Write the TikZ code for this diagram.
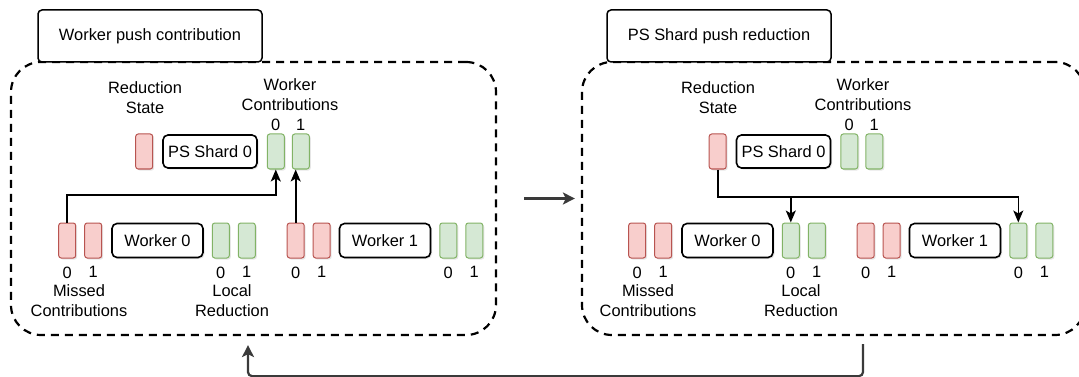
\documentclass[tikz,border=0pt]{standalone}
\usepackage{fontspec}
\setmainfont{Liberation Sans}
\usepackage{tikz}
\usetikzlibrary{arrows.meta,positioning,calc,shadows}
\definecolor{redfill}{HTML}{f8cecc}
\definecolor{redline}{HTML}{b85450}
\definecolor{greenfill}{HTML}{d5e8d4}
\definecolor{greenline}{HTML}{82b366}
\definecolor{phasegray}{HTML}{3a3a3a}

\begin{document}
\begin{tikzpicture}[
    x=1pt, y=-1pt,
    font=\fontsize{16.4}{20}\selectfont,
    title/.style={rectangle, draw, fill=white, line width=1.5pt, rounded corners=4pt,
                  minimum width=224pt, minimum height=52pt},
    panel/.style={rectangle, draw, dash pattern=on 8pt off 6pt, line width=2.2pt,
                  rounded corners=30pt, minimum height=273pt},
    unit/.style={rectangle, draw, fill=white, line width=1.6pt, rounded corners=5pt,
                 minimum width=91pt, minimum height=34pt, inner sep=0pt,
                 drop shadow={shadow xshift=1.5pt, shadow yshift=-1.5pt, opacity=0.2}},
    cell/.style={rectangle, rounded corners=2.5pt, line width=1pt, inner sep=0pt,
                 minimum width=17pt, minimum height=35pt,
                 drop shadow={shadow xshift=1.5pt, shadow yshift=-1.5pt, opacity=0.2}},
    redcell/.style={cell, draw=redline, fill=redfill},
    greencell/.style={cell, draw=greenline, fill=greenfill},
    idx/.style={inner sep=1pt},
    caption/.style={align=center, inner sep=0pt},
    arrow/.style={-{Stealth[length=12pt,width=10pt,inset=3pt]}, line width=1.6pt},
    phase/.style={-{Stealth[length=12pt,width=12pt,inset=3pt]}, line width=2.2pt, color=phasegray},
]
\useasboundingbox (0,0) rectangle (1079,377);
\clip (0,0) rectangle (1079,377);

% ---- worker push contribution ----
\node[panel, minimum width=485pt] (lpanel) at (253.5,198.5) {};
\node[title] (ltitle) at (150,36) {Worker push contribution};

\node[unit, minimum width=94pt, minimum height=33pt] (lshard) at (210,151.5) {PS Shard 0};
\node[redcell, left=9pt of lshard] (lstate) {};
\node[greencell, right=9pt of lshard] (lwc0) {};
\node[greencell, right=7pt of lwc0] (lwc1) {};

\node[unit] (lw0) at (157.5,240.5) {Worker 0};
\node[redcell, left=9pt of lw0] (lw0m1) {};
\node[redcell, left=8pt of lw0m1] (lw0m0) {};
\node[greencell, right=8pt of lw0] (lw0l0) {};
\node[greencell, right=8pt of lw0l0] (lw0l1) {};

\node[unit] (lw1) at (385,240.5) {Worker 1};
\node[redcell, left=8pt of lw1] (lw1m1) {};
\node[redcell, left=8pt of lw1m1] (lw1m0) {};
\node[greencell, right=8pt of lw1] (lw1l0) {};
\node[greencell, right=8pt of lw1l0] (lw1l1) {};

\node[caption] (lstatelbl) at (145,98) {Reduction\\State};
\node[caption] (lwclbl) at (290,95) {Worker\\Contributions};
\node[caption] (lmissed) at (79,301) {Missed\\Contributions};
\node[caption] (llocal) at (232,301) {Local\\Reduction};

% ---- ps shard push reduction ----
\node[panel, minimum width=503pt] (rpanel) at (833.5,198.5) {};
\node[title] (rtitle) at (719,36) {PS Shard push reduction};

\node[unit, minimum width=94pt, minimum height=33pt] (rshard) at (783.5,151.5) {PS Shard 0};
\node[redcell, left=9pt of rshard] (rstate) {};
\node[greencell, right=9pt of rshard] (rwc0) {};
\node[greencell, right=7pt of rwc0] (rwc1) {};

\node[unit] (rw0) at (727.5,240.5) {Worker 0};
\node[redcell, left=9pt of rw0] (rw0m1) {};
\node[redcell, left=8pt of rw0m1] (rw0m0) {};
\node[greencell, right=8pt of rw0] (rw0l0) {};
\node[greencell, right=8pt of rw0l0] (rw0l1) {};

\node[unit] (rw1) at (955,240.5) {Worker 1};
\node[redcell, left=8pt of rw1] (rw1m1) {};
\node[redcell, left=8pt of rw1m1] (rw1m0) {};
\node[greencell, right=8pt of rw1] (rw1l0) {};
\node[greencell, right=8pt of rw1l0] (rw1l1) {};

\node[caption] (rstatelbl) at (718,98) {Reduction\\State};
\node[caption] (rwclbl) at (863,95) {Worker\\Contributions};
\node[caption] (rmissed) at (648,301) {Missed\\Contributions};
\node[caption] (rlocal) at (801,301) {Local\\Reduction};

% slot numbers
\foreach \c/\n in {lwc0/0, lwc1/1, rwc0/0, rwc1/1}
  \node[idx, above=2pt of \c] (\c-n) {\n};
\foreach \c/\n in {lw0m0/0, lw0m1/1, lw0l0/0, lw0l1/1, lw1m0/0, lw1m1/1, lw1l0/0, lw1l1/1,
                   rw0m0/0, rw0m1/1, rw0l0/0, rw0l1/1, rw1m0/0, rw1m1/1, rw1l0/0, rw1l1/1}
  \node[idx, below=7pt of \c] (\c-n) {\n};

% pushes
\coordinate (lbend) at (0,195);
\coordinate (rbend) at (0,197);
\draw[arrow] (lw0m0.north) |- (lbend -| lwc0) -- (lwc0.south);
\draw[arrow] (lw1m0.north) -- (lw1m0.north |- lwc1.south);
\draw[arrow] (rstate.south) |- (rbend -| rw1l0) -- (rw1l0.north);
\draw[arrow] (rw0l0 |- rbend) -- (rw0l0.north);

% phase hand-over
\draw[phase] ([xshift=27pt]lpanel.east) -- ([xshift=-6pt]rpanel.west);
\draw[phase, rounded corners=4pt] ([xshift=29.5pt,yshift=-8pt]rpanel.south) -- ++(0,32)
  -| ([xshift=-5.5pt,yshift=-9pt]lpanel.south);

\end{tikzpicture}
\end{document}
